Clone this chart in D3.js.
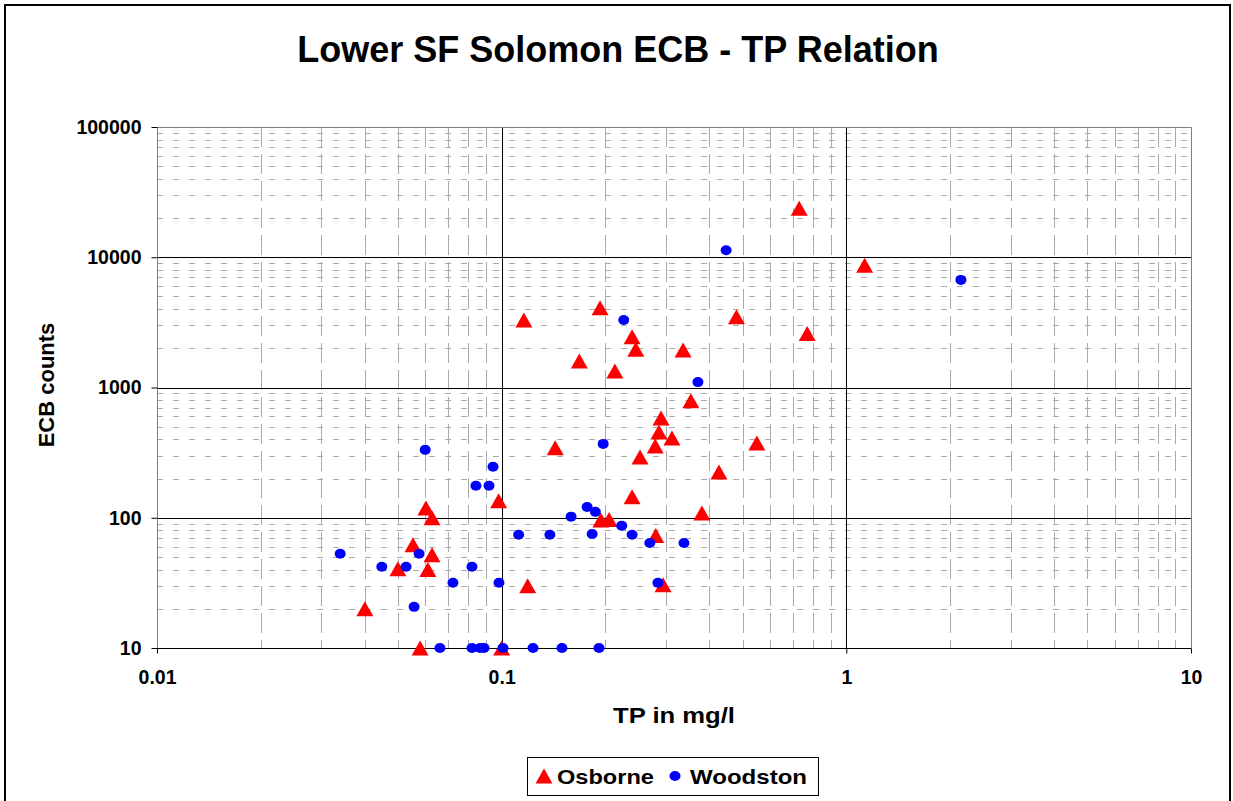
<!DOCTYPE html>
<html>
<head>
	<meta charset="utf-8">
	<script type="text/javascript" src="https://cdn.jsdelivr.net/npm/d3@7/dist/d3.min.js"></script>
	<title>Lower SF Solomon ECB - TP Relation</title>
	<style>
		body { margin: 0; background: #fff; }
		text { font-family: "Liberation Sans", Arial, sans-serif; font-weight: bold; fill: #000; }
	</style>
</head>
<body>
<script type="text/javascript">

	/*------ chart data (TP mg/l, ECB counts) ------*/

	var osborneTP = [0.73, 1.13, 0.48, 0.77, 0.193, 0.116, 0.239, 0.245, 0.336, 0.168,
		0.213, 0.354, 0.29, 0.286, 0.312, 0.279, 0.55, 0.143, 0.252, 0.427,
		0.239, 0.098, 0.194, 0.205, 0.381, 0.28, 0.294, 0.119, 0.1, 0.0603,
		0.0628, 0.0553, 0.0628, 0.05, 0.0611, 0.0401, 0.058];
	var osborneECB = [23800, 8700, 3500, 2600, 4100, 3300, 2450, 1970, 1940, 1600,
		1340, 790, 583, 455, 410, 356, 375, 344, 293, 225,
		145, 135, 96, 97, 109, 73, 30.6, 30, 10, 119,
		100, 62, 52, 40.6, 40, 20, 10];

	var woodstonTP = [0.448, 2.15, 0.226, 0.371, 0.197, 0.06, 0.0944, 0.0842, 0.0919, 0.112,
		0.138, 0.034, 0.0576, 0.0449, 0.0528, 0.082, 0.0722, 0.0982, 0.0557,
		0.0662, 0.082, 0.0865, 0.0889, 0.1009, 0.1233, 0.1496, 0.1916,
		0.159, 0.177, 0.187, 0.183, 0.223, 0.239, 0.269, 0.338, 0.284];
	var woodstonECB = [11300, 6700, 3300, 1100, 369, 332, 246, 176, 176, 74,
		74, 53, 53, 42, 42, 42, 31.7, 31.7, 20.7,
		10, 10, 10, 10, 10, 10, 10, 10,
		102, 121, 111, 75, 87, 74, 64, 64, 31.7];

	var xTicks = [0.01, 0.1, 1, 10];
	var yTicks = [10, 100, 1000, 10000, 100000];

	var seriesNames = ['Osborne', 'Woodston'];

	/*----- layout -----*/

	var svgWidth = 1233;
	var svgHeight = 801;
	var plotLeft = 157, plotRight = 1191, plotTop = 127, plotBottom = 648;

	var svg = d3.select('body')
			.append('svg')
			.attr('width', svgWidth)
			.attr('height', svgHeight);

	// outer chart frame
	svg.append('rect')
		.attr('x', 5).attr('y', 5)
		.attr('width', 1225).attr('height', 800)
		.attr('fill', '#fff')
		.attr('stroke', '#000')
		.attr('stroke-width', 2);

	var xScale = d3.scaleLog().domain([0.01, 10]).range([plotLeft, plotRight]);
	var yScale = d3.scaleLog().domain([10, 100000]).range([plotBottom, plotTop]);

	function minorValues(ticks) {
		var out = [];
		for (var i = 0; i < ticks.length - 1; i++) {
			for (var k = 2; k <= 9; k++) out.push(ticks[i] * k);
		}
		return out;
	}

	var grid = svg.append('g');

	// minor gridlines (dashed gray)
	grid.selectAll('.xminor')
		.data(minorValues(xTicks))
		.enter().append('line')
		.attr('x1', function (d) { return Math.round(xScale(d)) + 0.5; })
		.attr('x2', function (d) { return Math.round(xScale(d)) + 0.5; })
		.attr('y1', plotTop).attr('y2', plotBottom)
		.attr('stroke', '#aaa')
		.attr('stroke-dasharray', '20,7');

	grid.selectAll('.yminor')
		.data(minorValues(yTicks))
		.enter().append('line')
		.attr('x1', plotLeft).attr('x2', plotRight)
		.attr('y1', function (d) { return Math.round(yScale(d)) + 0.5; })
		.attr('y2', function (d) { return Math.round(yScale(d)) + 0.5; })
		.attr('stroke', '#aaa')
		.attr('stroke-dasharray', '6,10');

	// major gridlines
	grid.selectAll('.xmajor')
		.data(xTicks.slice(1, -1))
		.enter().append('line')
		.attr('x1', function (d) { return Math.round(xScale(d)) + 0.5; })
		.attr('x2', function (d) { return Math.round(xScale(d)) + 0.5; })
		.attr('y1', plotTop).attr('y2', plotBottom)
		.attr('stroke', '#000');

	grid.selectAll('.ymajor')
		.data(yTicks.slice(0, -1))
		.enter().append('line')
		.attr('x1', plotLeft).attr('x2', plotRight)
		.attr('y1', function (d) { return Math.round(yScale(d)) + 0.5; })
		.attr('y2', function (d) { return Math.round(yScale(d)) + 0.5; })
		.attr('stroke', '#000');

	// plot area border
	svg.append('path')
		.attr('d', 'M' + (plotLeft + 0.5) + ',' + (plotBottom + 0.5) + 'V' + (plotTop + 0.5) +
			'H' + (plotRight + 0.5) + 'V' + (plotBottom + 0.5))
		.attr('fill', 'none')
		.attr('stroke', '#808080');

	// axes
	var xAxis = svg.append('g')
		.attr('transform', 'translate(0,' + (plotBottom + 0.5) + ')')
		.call(d3.axisBottom(xScale)
			.tickValues(xTicks)
			.tickFormat(function (d) { return String(d); })
			.tickSizeOuter(0)
			.tickSize(5)
			.tickPadding(17));
	xAxis.select('.domain').remove();
	xAxis.selectAll('line').attr('stroke', '#000');
	xAxis.selectAll('text').style('font-size', '19.5px').attr('fill', '#000');

	var yAxis = svg.append('g')
		.attr('transform', 'translate(' + (plotLeft + 0.5) + ',0)')
		.call(d3.axisLeft(yScale)
			.tickValues(yTicks)
			.tickFormat(d3.format('d'))
			.tickSizeOuter(0)
			.tickSize(6)
			.tickPadding(10));
	yAxis.select('.domain').remove();
	yAxis.selectAll('line').attr('stroke', '#000');
	yAxis.selectAll('text').style('font-size', '19.5px').attr('fill', '#000');

	// points
	var triangle = 'M0,-7.5L8.5,7.5L-8.5,7.5Z';

	var osborne = osborneTP.map(function (v, i) { return { x: v, y: osborneECB[i] }; });
	var woodston = woodstonTP.map(function (v, i) { return { x: v, y: woodstonECB[i] }; });

	svg.append('g').selectAll('path')
		.data(osborne)
		.enter().append('path')
		.attr('d', triangle)
		.attr('transform', function (d) { return 'translate(' + xScale(d.x) + ',' + yScale(d.y) + ')'; })
		.attr('fill', '#ff0000');

	svg.append('g').selectAll('ellipse')
		.data(woodston)
		.enter().append('ellipse')
		.attr('cx', function (d) { return xScale(d.x); })
		.attr('cy', function (d) { return yScale(d.y); })
		.attr('rx', 5.5).attr('ry', 5)
		.attr('fill', '#0000ff');

	// titles
	svg.append('text')
		.attr('x', 618).attr('y', 62)
		.attr('text-anchor', 'middle')
		.style('font-size', '36px')
		.text('Lower SF Solomon ECB - TP Relation');

	svg.append('text')
		.attr('x', 674).attr('y', 722.5)
		.attr('text-anchor', 'middle')
		.attr('textLength', 122)
		.attr('lengthAdjust', 'spacingAndGlyphs')
		.style('font-size', '22px')
		.text('TP in mg/l');

	svg.append('text')
		.attr('transform', 'translate(54,385) rotate(-90)')
		.attr('text-anchor', 'middle')
		.style('font-size', '22px')
		.text('ECB counts');

	// legend
	var legend = svg.append('g');
	legend.append('rect')
		.attr('x', 527.5).attr('y', 757.5)
		.attr('width', 291).attr('height', 38)
		.attr('fill', '#fff')
		.attr('stroke', '#000');
	legend.append('path')
		.attr('d', triangle)
		.attr('transform', 'translate(544,776)')
		.attr('fill', '#ff0000');
	legend.append('text')
		.attr('x', 557).attr('y', 783.5)
		.attr('textLength', 97)
		.attr('lengthAdjust', 'spacingAndGlyphs')
		.style('font-size', '21px')
		.text(seriesNames[0]);
	legend.append('ellipse')
		.attr('cx', 675).attr('cy', 776)
		.attr('rx', 5.5).attr('ry', 5)
		.attr('fill', '#0000ff');
	legend.append('text')
		.attr('x', 690).attr('y', 783.5)
		.attr('textLength', 117)
		.attr('lengthAdjust', 'spacingAndGlyphs')
		.style('font-size', '21px')
		.text(seriesNames[1]);

</script>
</body>
</html>
